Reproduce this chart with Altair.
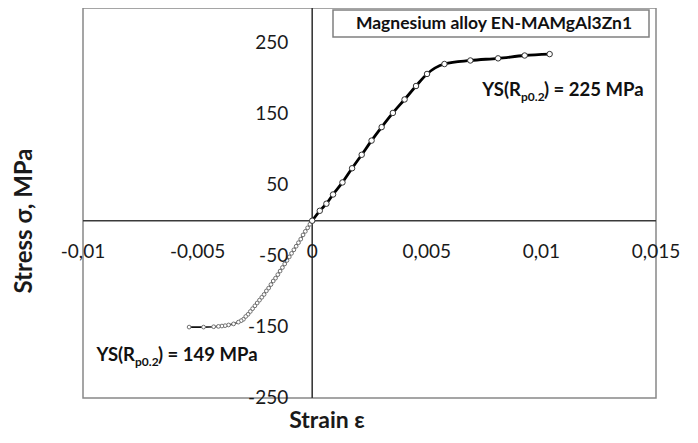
import altair as alt
import pandas as pd

# Tension branch
tension_strain = [0.0, 0.00033, 0.00062, 0.00091, 0.00132, 0.00174, 0.00216, 0.00259,
                  0.00303, 0.00352, 0.00403, 0.00453, 0.00501, 0.00577, 0.0069,
                  0.00811, 0.00927, 0.01036]
tension_stress = [0, 14, 24, 37, 54, 74, 93, 113, 132, 152, 171, 190, 207, 221, 226,
                  229, 233, 235]

# Compression branch
comp_strain = [0.0, -0.0001, -0.0002, -0.0003, -0.0004, -0.0005, -0.0006, -0.0007,
               -0.0008, -0.0009, -0.001, -0.0011, -0.0012, -0.0013, -0.0014, -0.0015,
               -0.0016, -0.0017, -0.0018, -0.0019, -0.002, -0.0021, -0.0022, -0.0023,
               -0.0024, -0.0025, -0.0026, -0.0027, -0.0028, -0.0029, -0.003, -0.0031,
               -0.00322, -0.00343, -0.00365, -0.0038, -0.00394, -0.00409, -0.0043,
               -0.00474, -0.00537]
comp_stress = [0, -5, -10, -15, -20, -26, -31, -36, -41, -46, -51, -56, -61, -66, -71,
               -76, -81, -85, -90, -95, -99, -104, -108, -112, -116, -120, -124, -128,
               -132, -135, -139, -141, -143, -145.5, -147, -148, -148.5, -149, -149.5,
               -150, -150]

x_ticks = [-0.01, -0.005, 0, 0.005, 0.01, 0.015]
x_tick_labels = ["-0,01", "-0,005", "0", "0,005", "0,01", "0,015"]
y_ticks = [-250, -150, -50, 50, 150, 250]
y_tick_labels = ["-250", "-150", "-50", "50", "150", "250"]

x_title = "Strain ε"
y_title = "Stress σ, MPa"
series_name = "Magnesium alloy EN-MAMgAl3Zn1"
ann_main_left = ["YS(R", "YS(R"]
ann_sub = ["p0.2", "p0.2"]
ann_main_right = [") = 225 MPa", ") = 149 MPa"]
ann_strain = [0.00911, -0.00773]
ann_stress = [184, -190]

FONT = "Lato"

tension = pd.DataFrame({"strain": tension_strain, "stress": tension_stress})
comp = pd.DataFrame({"strain": comp_strain, "stress": comp_stress})
xlab = pd.DataFrame({"strain": x_ticks, "stress": [0] * len(x_ticks), "label": x_tick_labels})
ylab = pd.DataFrame({"strain": [0] * len(y_ticks), "stress": y_ticks, "label": y_tick_labels})
zero = pd.DataFrame({"strain": [0], "stress": [0]})
ann = pd.DataFrame({"strain": ann_strain, "stress": ann_stress,
                    "left": ann_main_left, "sub": ann_sub, "right": ann_main_right})
box = pd.DataFrame({"label": [series_name]})
titles = pd.DataFrame({"xt": [x_title], "yt": [y_title]})

xs = alt.Scale(domain=[-0.01, 0.015], nice=False, zero=False)
ys = alt.Scale(domain=[-250, 300], nice=False, zero=False)

X = lambda: alt.X("strain:Q", scale=xs, axis=None)
Y = lambda: alt.Y("stress:Q", scale=ys, axis=None)

grid = alt.Chart(tension).mark_point(opacity=0).encode(
    x=alt.X("strain:Q", scale=xs, axis=alt.Axis(
        values=x_ticks, grid=True, gridColor="#c8c8c8", gridWidth=1,
        labels=False, ticks=False, domain=False, title=None)),
    y=alt.Y("stress:Q", scale=ys, axis=alt.Axis(
        values=y_ticks, grid=True, gridColor="#c8c8c8", gridWidth=1,
        labels=False, ticks=False, domain=False, title=None)),
)

vrule = alt.Chart(zero).mark_rule(color="#3a3a3a", strokeWidth=1.6).encode(x=X())
hrule = alt.Chart(zero).mark_rule(color="#3a3a3a", strokeWidth=1.6).encode(y=Y())

comp_line = alt.Chart(comp).mark_line(color="#111111", strokeWidth=1.6).encode(
    x=X(), y=Y(), order="strain:Q")
comp_pts = alt.Chart(comp).mark_point(shape="circle", filled=True, fill="white",
                                      stroke="#707070", strokeWidth=1, size=14,
                                      opacity=1).encode(x=X(), y=Y())
ten_line = alt.Chart(tension).mark_line(color="#000000", strokeWidth=2.8,
                                        interpolate="monotone").encode(
    x=X(), y=Y(), order="strain:Q")
ten_pts = alt.Chart(tension).mark_point(shape="circle", filled=True, fill="white",
                                        stroke="#333333", strokeWidth=1, size=30,
                                        opacity=1).encode(x=X(), y=Y())

xlabels = alt.Chart(xlab).mark_text(font=FONT, fontSize=19, color="#1a1a1a",
                                    align="center", baseline="middle", dy=31).encode(
    x=X(), y=Y(), text="label:N")
ylabels = alt.Chart(ylab).mark_text(font=FONT, fontSize=19, color="#1a1a1a",
                                    align="right", baseline="middle", dx=-24).encode(
    x=X(), y=Y(), text="label:N")

ann_l = alt.Chart(ann).mark_text(font=FONT, fontSize=18.5, fontWeight="bold", color="#111111",
                                 align="right", baseline="middle").encode(
    x=X(), y=Y(), text="left:N")
ann_s = alt.Chart(ann).mark_text(font=FONT, fontSize=12, fontWeight="bold", color="#111111",
                                 align="left", baseline="middle", dy=7).encode(
    x=X(), y=Y(), text="sub:N")
ann_r = alt.Chart(ann).mark_text(font=FONT, fontSize=18.5, fontWeight="bold", color="#111111",
                                 align="left", baseline="middle", dx=23).encode(
    x=X(), y=Y(), text="right:N")

box_rect = alt.Chart(box).mark_rect(fill="white", stroke="#808080", strokeWidth=1.5).encode(
    x=alt.value(250), x2=alt.value(566), y=alt.value(2), y2=alt.value(29))
box_text = alt.Chart(box).mark_text(font=FONT, fontSize=17.5, fontWeight="bold",
                                    color="#111111", align="center",
                                    baseline="middle").encode(
    x=alt.value(411), y=alt.value(16), text="label:N")

xtitle = alt.Chart(titles).mark_text(font=FONT, fontSize=23, fontWeight="bold",
                                     color="#1a1a1a", align="center",
                                     baseline="middle").encode(
    x=alt.value(244), y=alt.value(413), text="xt:N")
ytitle = alt.Chart(titles).mark_text(font=FONT, fontSize=24, fontWeight="bold",
                                     color="#1a1a1a", align="center",
                                     baseline="middle", angle=270).encode(
    x=alt.value(-58), y=alt.value(213), text="yt:N")

chart = alt.layer(
    grid, vrule, hrule, comp_line, comp_pts, ten_line, ten_pts,
    xlabels, ylabels, ann_l, ann_s, ann_r, box_rect, box_text, xtitle, ytitle
).properties(
    width=573, height=390, autosize="none",
    padding={"left": 75, "top": 0, "right": 30, "bottom": 37},
    background="white",
).configure_view(stroke="#888888", strokeWidth=1.5, clip=False)

chart.save("out.html", embed_options={"renderer": "svg", "actions": False})
